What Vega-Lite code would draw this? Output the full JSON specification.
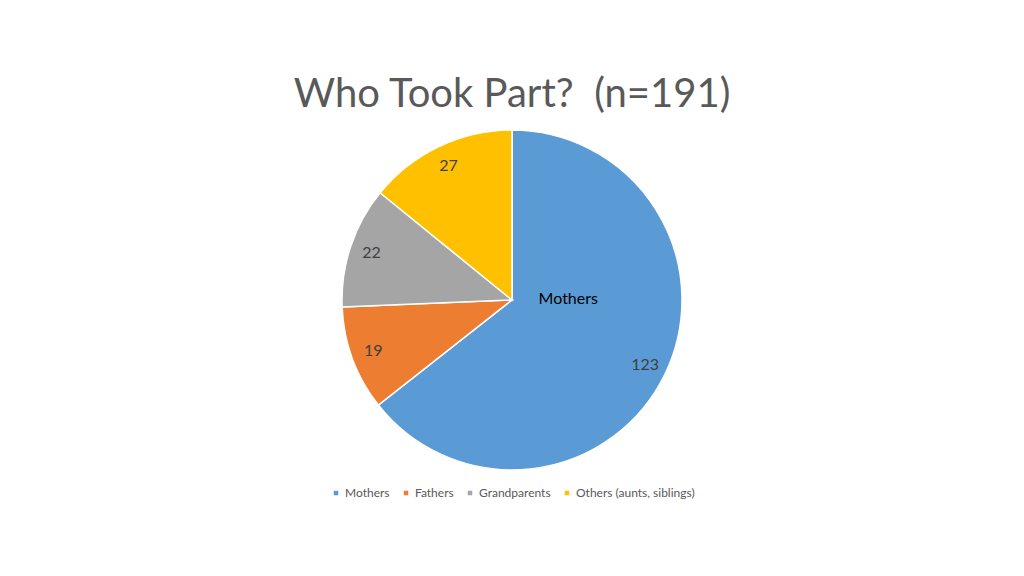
{
  "$schema": "https://vega.github.io/schema/vega-lite/v6.json",
  "width": 1024,
  "height": 360,
  "autosize": {"type": "none"},
  "padding": {"top": 120, "bottom": 96, "left": 0, "right": 0},
  "background": "white",
  "title": {
    "text": "Who Took Part?\u00a0\u00a0(n=191)",
    "font": "Lato",
    "fontSize": 40,
    "fontWeight": "normal",
    "color": "#595959",
    "anchor": "middle",
    "offset": 5
  },
  "data": {
    "values": [
      {"group": "Mothers", "count": 123, "order": 1},
      {"group": "Fathers", "count": 19, "order": 2},
      {"group": "Grandparents", "count": 22, "order": 3},
      {"group": "Others (aunts, siblings)", "count": 27, "order": 4}
    ]
  },
  "encoding": {
    "theta": {"field": "count", "type": "quantitative", "stack": true},
    "order": {"field": "order", "type": "quantitative"}
  },
  "layer": [
    {
      "mark": {"type": "arc", "outerRadius": 170, "stroke": "white", "strokeWidth": 1.5},
      "encoding": {
        "color": {
          "field": "group",
          "type": "nominal",
          "scale": {
            "domain": ["Mothers", "Fathers", "Grandparents", "Others (aunts, siblings)"],
            "range": ["#5B9BD5", "#ED7D31", "#A5A5A5", "#FFC000"]
          },
          "legend": {
            "title": null,
            "orient": "none",
            "legendX": 330,
            "legendY": 367,
            "direction": "horizontal",
            "symbolType": "square",
            "symbolSize": 36,
            "labelFont": "Lato",
            "labelFontSize": 12,
            "labelColor": "#595959",
            "columnPadding": 10,
            "symbolOffset": 0,
            "labelOffset": 3
          }
        }
      }
    },
    {
      "mark": {"type": "text", "radius": 148, "font": "Lato", "fontSize": 16, "color": "#404040"},
      "encoding": {"text": {"field": "count", "type": "quantitative"}}
    },
    {
      "transform": [{"filter": "datum.group === 'Mothers'"}],
      "mark": {"type": "text", "radius": 57, "dy": -26, "dx": 5, "font": "Lato", "fontSize": 16, "color": "#000000"},
      "encoding": {"text": {"field": "group", "type": "nominal"}}
    }
  ]
}
